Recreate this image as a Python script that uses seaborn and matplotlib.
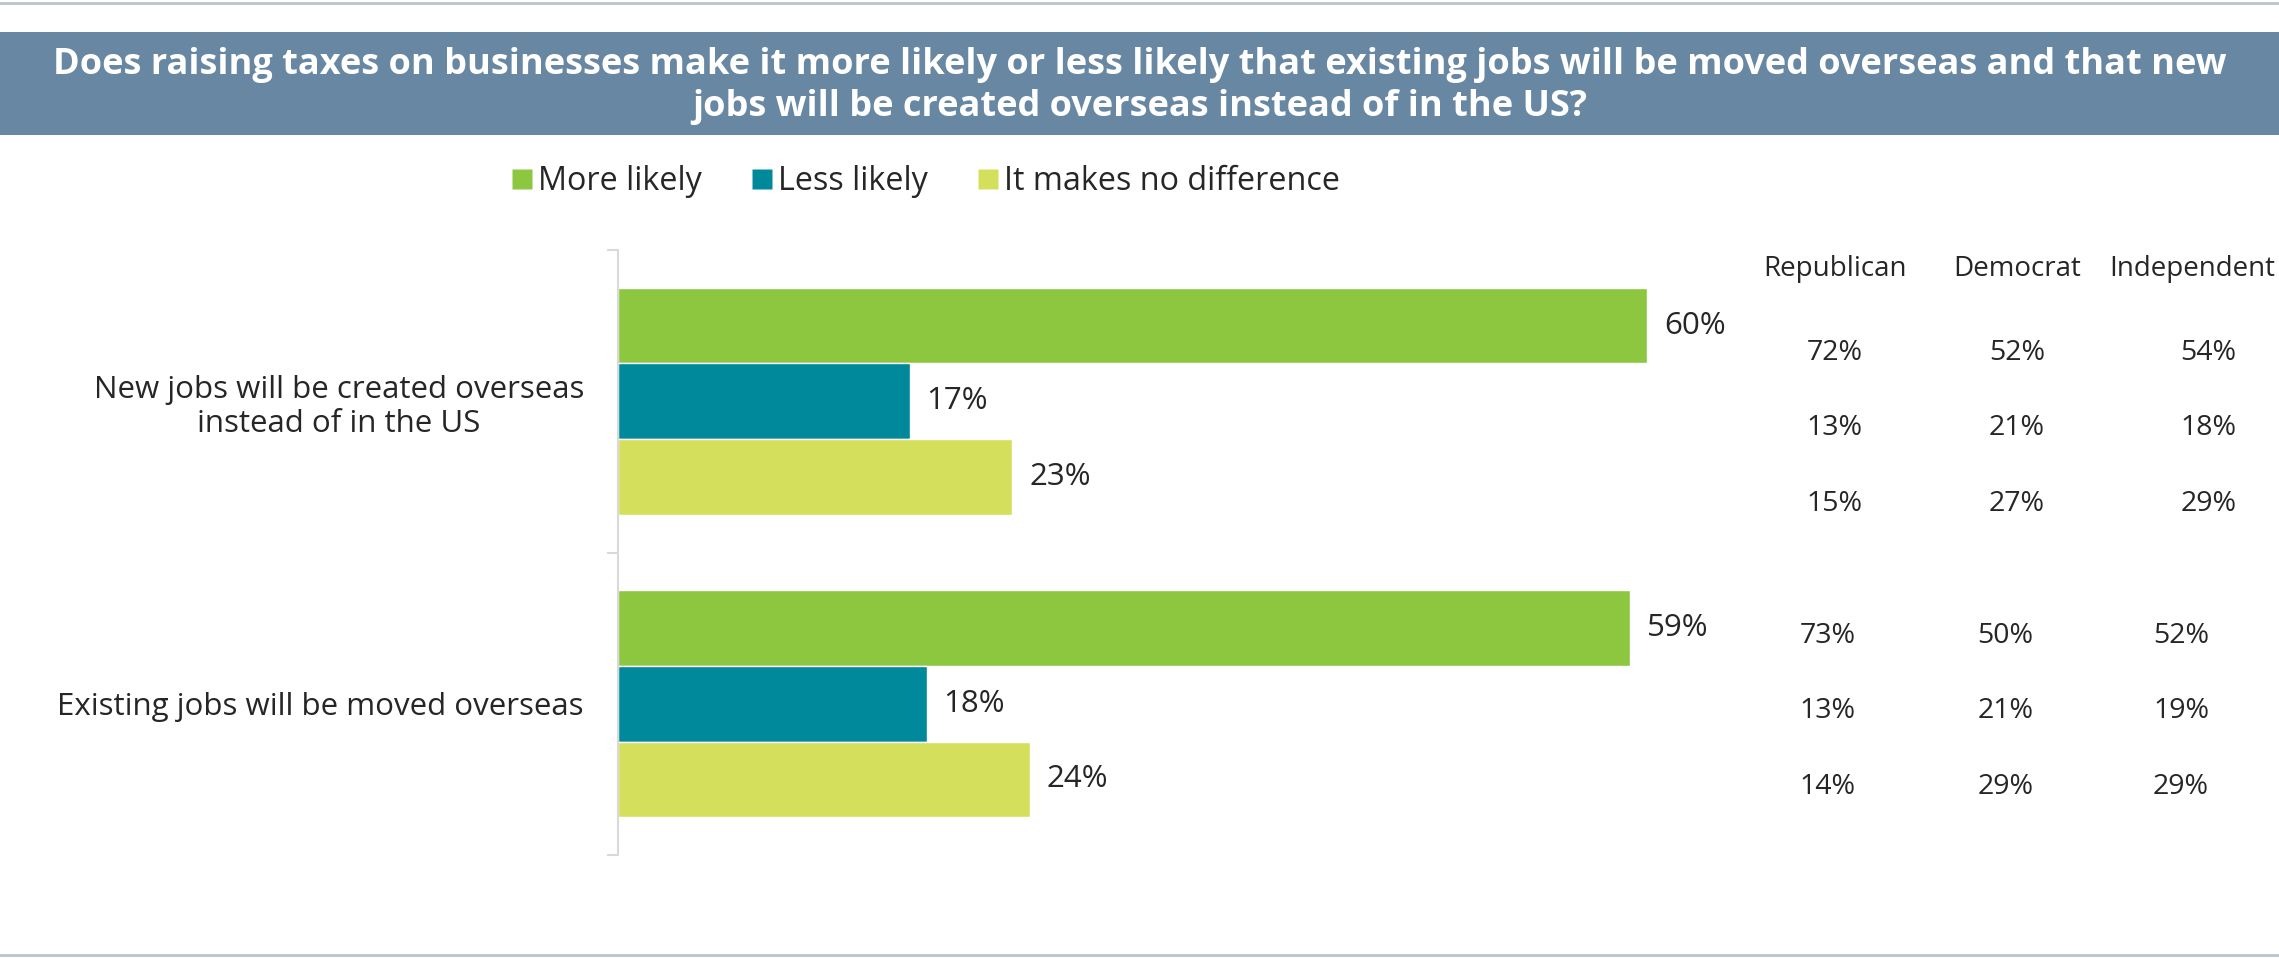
import pandas as pd
import matplotlib.pyplot as plt
import matplotlib.transforms as mtransforms
from matplotlib.patches import Rectangle
from matplotlib.lines import Line2D
import seaborn as sns

# ---- data ----
questions = ["New jobs will be created overseas\ninstead of in the US",
             "Existing jobs will be moved overseas"]
responses = ["More likely", "Less likely", "It makes no difference"]
overall_new = [60, 17, 23]
overall_existing = [59, 18, 24]

parties = ["Republican", "Democrat", "Independent"]
republican_new = [72, 13, 15]
democrat_new = [52, 21, 27]
independent_new = [54, 18, 29]
republican_existing = [73, 13, 14]
democrat_existing = [50, 21, 29]
independent_existing = [52, 19, 29]

colors = {"More likely": "#8DC63F", "Less likely": "#00899B", "It makes no difference": "#D4E05C"}
title = ("Does raising taxes on businesses make it more likely or less likely that existing jobs will be moved overseas and that new\n"
         "jobs will be created overseas instead of in the US?")

df = pd.DataFrame({
    "question": [questions[0]] * 3 + [questions[1]] * 3,
    "response": responses * 2,
    "value": overall_new + overall_existing,
})

sns.set_style("white")
plt.rcParams["font.family"] = ["Open Sans", "DejaVu Sans"]
text_col = "#262626"

fig = plt.figure(figsize=(22.79, 9.58), dpi=100)

# title band and thin frame lines
fig.patches.append(Rectangle((0, 1 - 135 / 958), 1, 103 / 958, transform=fig.transFigure,
                             facecolor="#6887A3", edgecolor="none", zorder=0))
fig.lines.append(Line2D([0, 1], [0.997, 0.997], transform=fig.transFigure, color="#B8C4CC", lw=2))
fig.lines.append(Line2D([0, 1], [0.003, 0.003], transform=fig.transFigure, color="#B8C4CC", lw=2))
fig.text(0.5, 1 - 86 / 958, title, ha="center", va="center", color="white",
         fontsize=26, fontweight="bold", linespacing=1.2)

ax = fig.add_axes([618 / 2279, 1 - 855 / 958, (1750 - 618) / 2279, 605 / 958])
sns.barplot(data=df, y="question", x="value", hue="response", hue_order=responses,
            palette=colors, orient="h", width=0.75, saturation=1, ax=ax, legend=False)

ax.set_xlim(0, 66)
ax.set_ylim(1.5, -0.5)
ax.set_xlabel("")
ax.set_ylabel("")
ax.set_xticks([])
for s in ["top", "right", "bottom"]:
    ax.spines[s].set_visible(False)
ax.spines["left"].set_color("#D9D9D9")
ax.spines["left"].set_linewidth(1.5)
ax.set_yticks([-0.5, 0.5, 1.5], minor=True)
ax.tick_params(axis="y", which="minor", left=True, length=8, color="#D9D9D9", width=1.5)
ax.tick_params(axis="y", which="major", left=False, pad=21, labelsize=22.5, labelcolor=text_col)
for lab in ax.get_yticklabels():
    lab.set_multialignment("center")

for cont, resp in zip(ax.containers, responses):
    vals = [overall_new[responses.index(resp)], overall_existing[responses.index(resp)]]
    ax.bar_label(cont, labels=[f"{v}%" for v in vals], padding=12, fontsize=22.5, color=text_col)

# legend
handles = [Line2D([], [], marker="s", linestyle="none", markersize=15,
                  markerfacecolor=colors[r], markeredgecolor="none") for r in responses]
fig.legend(handles, responses, loc="center left", bbox_to_anchor=(480 / 2279, 1 - 182 / 958),
           ncol=3, frameon=False, fontsize=23.3, handletextpad=0.1, columnspacing=1.45,
           handlelength=0.8, labelcolor=text_col)

# party breakdown table
blend = mtransforms.blended_transform_factory(fig.transFigure, ax.transData)
header_x = [0.805, 0.885, 0.962]
for px, p in zip(header_x, parties):
    fig.text(px, 1 - 269 / 958, p, ha="center", va="center", fontsize=20, color=text_col)

groups = [
    ([republican_new, democrat_new, independent_new], [0.805, 0.885, 0.969], 0.09),
    ([republican_existing, democrat_existing, independent_existing], [0.802, 0.880, 0.957], 0.025),
]
for gi, (cols, xs, off) in enumerate(groups):
    for col, px in zip(cols, xs):
        for j, v in enumerate(col):
            ax.text(px, gi + (j - 1) * 0.25 + off, f"{v}%", transform=blend,
                    ha="center", va="center", fontsize=20.5, color=text_col)

fig.savefig("out.png", dpi=100, facecolor="white")
